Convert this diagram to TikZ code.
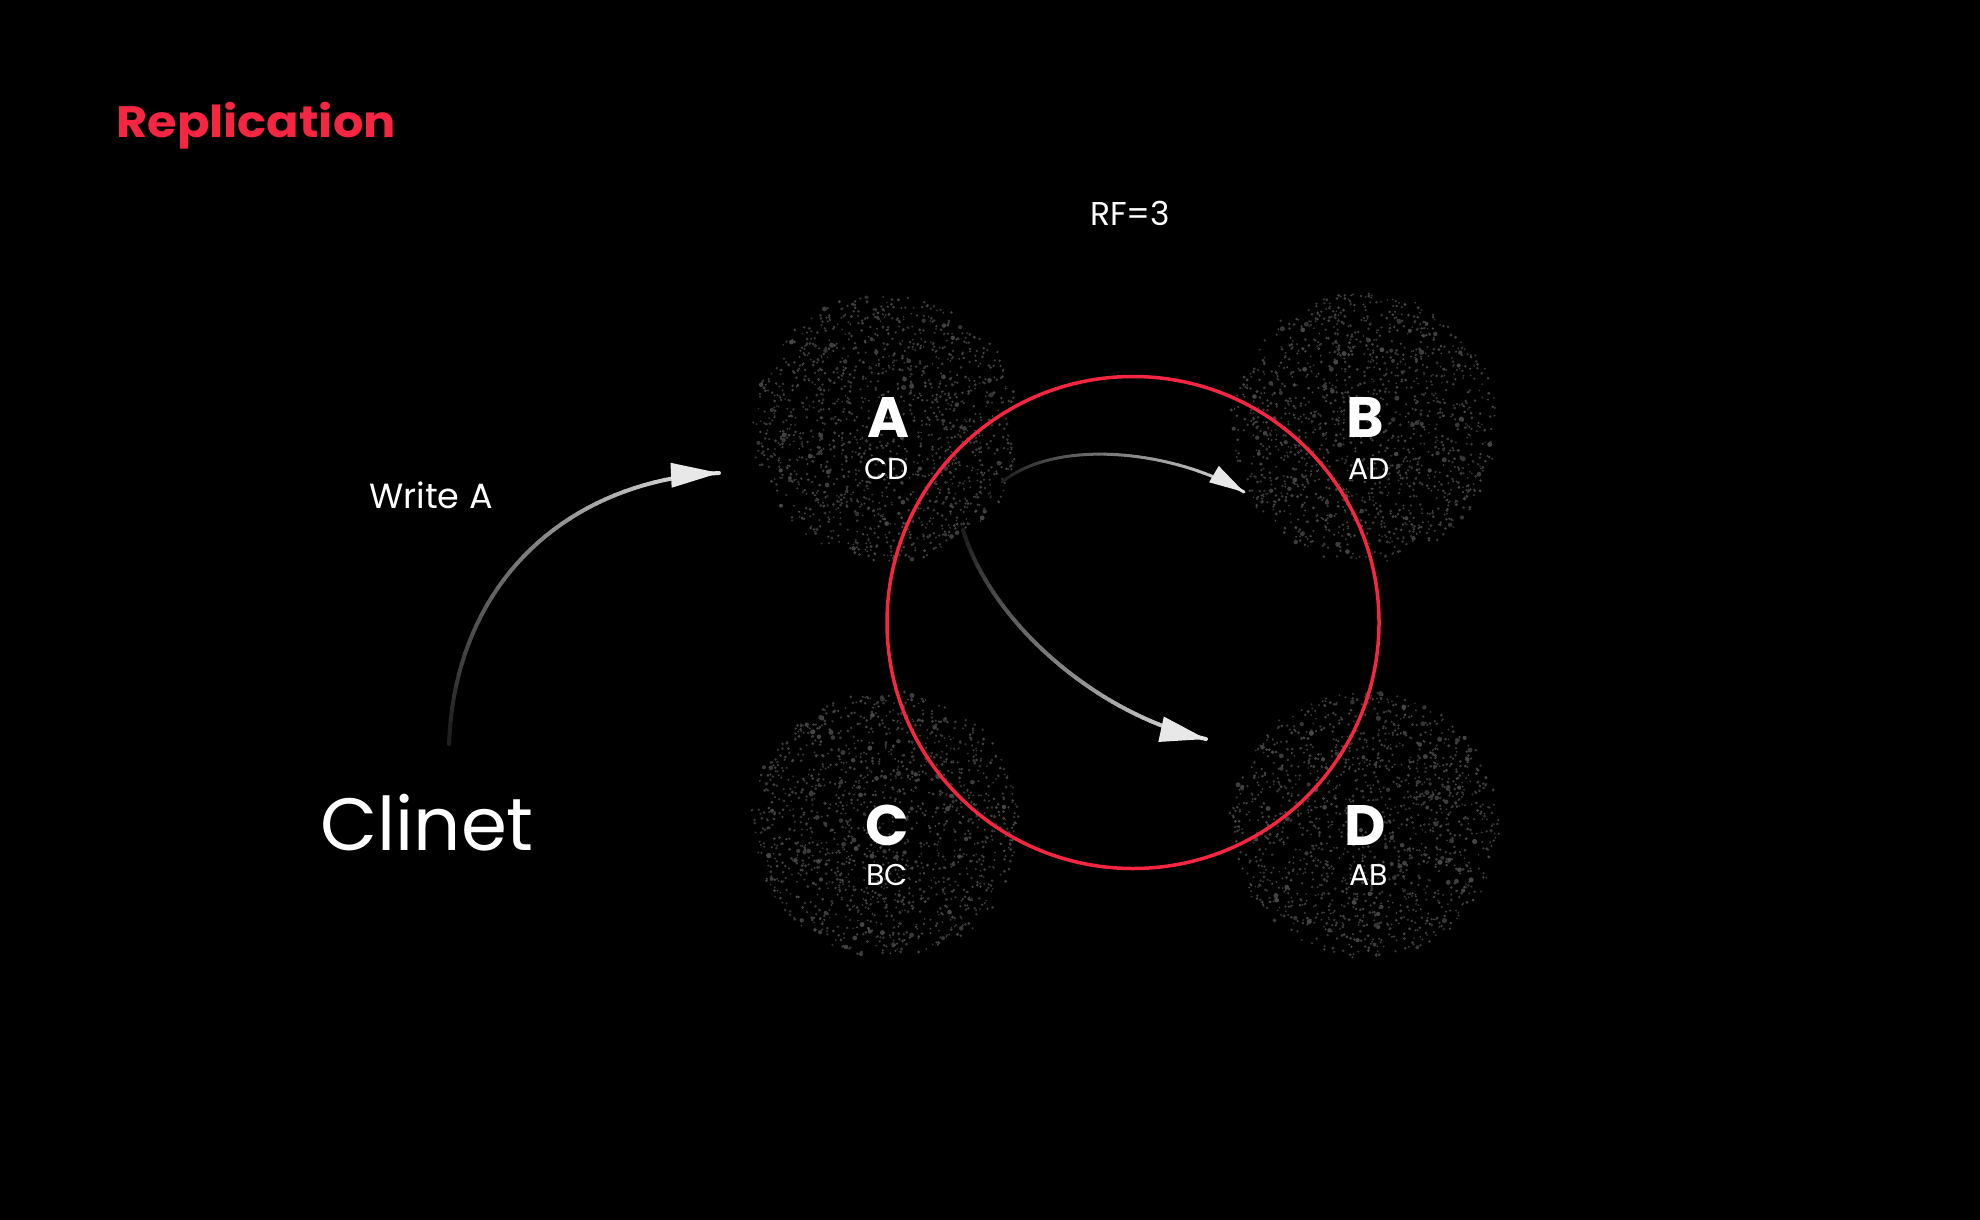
\documentclass[tikz,border=0pt]{standalone}
\usepackage{fontspec}
\setmainfont{Poppins}
\usetikzlibrary{calc}
\definecolor{accent}{RGB}{245,38,66}
\definecolor{headgray}{RGB}{232,232,232}
\tikzset{
  lbl/.style={text=white, inner sep=0pt, anchor=base},
  letter/.style={lbl, font=\fontsize{57}{57}\selectfont\bfseries},
  sublbl/.style={lbl, font=\fontsize{30}{30}\selectfont},
  disc/.style={circle, minimum size=266pt, inner sep=0pt, draw=none},
  ring/.style={draw=accent, line width=3.5pt},
}
\newcommand\speckledisc[3]{%
  \node[disc] (#1) at (#2,#3) {};
  \foreach \k in {1,...,1500}{%
    \pgfmathsetmacro\rr{130*sqrt(rnd)+6*rnd}%
    \pgfmathsetmacro\aa{360*rnd}%
    \pgfmathsetmacro\px{#2+\rr*cos(\aa)}%
    \pgfmathsetmacro\py{#3+\rr*sin(\aa)}%
    \pgfmathsetmacro\ss{0.9+0.7*rnd+1.0*(rnd>0.95)}%
    \pgfmathtruncatemacro\gg{20+9*rnd}%
    \fill[white!\gg!black] (\px,\py) circle[radius=\ss];
  }%
}
% #1 prefix, #2 line width, #3 start grey, #4 end grey, #5 head length, #6 head half width
\newcommand\gradarrow[6]{%
  \path (#1s) .. controls (#1c1) and (#1c2) .. (#1e)
    foreach \i in {0,...,40}{coordinate[pos=\i/40] (#1p\i)};
  \foreach \i in {0,...,39}{%
    \pgfmathtruncatemacro\j{\i+1}%
    \pgfmathtruncatemacro\g{#3+(#4-#3)*\i/39}%
    \draw[line width=#2, line cap=round, white!\g!black] (#1p\i) -- (#1p\j);
  }%
  \coordinate (#1b) at ($(#1e)!#5pt!(#1c2)$);
  \fill[headgray] (#1e) -- ($(#1b)!#6pt!90:(#1e)$) -- ($(#1b)!#6pt!-90:(#1e)$) -- cycle;
}
\begin{document}
\begin{tikzpicture}[x=1pt,y=-1pt]
\pgfmathsetseed{7}
\fill[black] (0,0) rectangle (1980,1220);
\useasboundingbox (0,0) rectangle (1980,1220);

% speckled discs
\speckledisc{A}{887}{427}
\speckledisc{B}{1364}{427}
\speckledisc{C}{887}{824}
\speckledisc{D}{1364}{824}

% red ring
\node[circle, ring, minimum size=492pt, inner sep=0pt] (ring) at (1133,622.5) {};

% arrows
\coordinate (ws) at (449,744);
\coordinate (wc1) at (455,580);
\coordinate (wc2) at (570,480);
\coordinate (we) at (719,473);
\gradarrow{w}{4pt}{12}{88}{48}{12.5}

\coordinate (ps) at (1002,482);
\coordinate (pc1) at (1058,437);
\coordinate (pc2) at (1175,451);
\coordinate (pe) at (1244,492);
\gradarrow{p}{3pt}{12}{88}{35}{9.5}

\coordinate (qs) at (963,530);
\coordinate (qc1) at (992,625);
\coordinate (qc2) at (1100,716);
\coordinate (qe) at (1206,739);
\gradarrow{q}{4pt}{12}{88}{46}{13}

% texts
\node[lbl, anchor=base west, text=accent, font=\fontsize{44}{44}\selectfont\bfseries] (title) at (116,137) {\scalebox{1.09}[1]{Replication}};
\node[lbl, font=\fontsize{33}{33}\selectfont] (rf) at (1130,225) {RF=3};
\node[lbl, font=\fontsize{35}{35}\selectfont] (write) at (431,508) {Write A};
\node[lbl, font=\fontsize{74}{74}\selectfont] (client) at (427,850) {Clinet};

\node[letter] (la) at (888,437) {A};
\node[sublbl] (sa) at (887,479) {CD};
\node[letter] (lb) at (1365,437) {B};
\node[sublbl] (sb) at (1369,479) {AD};
\node[letter] (lc) at (887,845) {C};
\node[sublbl] (sc) at (887,885) {BC};
\node[letter] (ld) at (1365,845) {D};
\node[sublbl] (sd) at (1369,885) {AB};
\end{tikzpicture}
\end{document}
